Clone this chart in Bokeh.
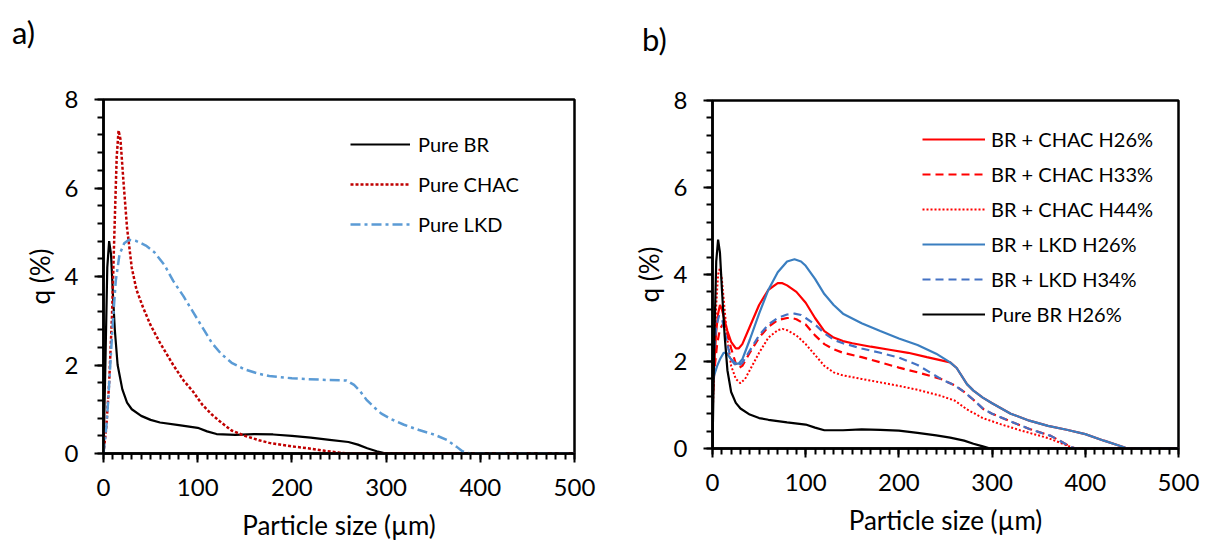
from bokeh.plotting import figure
from bokeh.layouts import row, column
from bokeh.models import FixedTicker, Legend, LegendItem, Range1d, Div
from bokeh.embed import file_html
from bokeh.resources import INLINE

FONT = "Lato"

# ---------------- Panel a) data ----------------
a_br_x = [0, 2, 4, 6, 8, 10, 12, 15, 20, 25, 30, 40, 50, 60, 80, 100, 110, 120, 140, 160, 180, 200, 220, 240, 260, 270, 280, 290, 300, 500]
a_br_y = [0, 2.0, 4.2, 4.8, 4.5, 3.6, 2.8, 2.0, 1.45, 1.15, 1.0, 0.85, 0.76, 0.7, 0.64, 0.58, 0.5, 0.44, 0.42, 0.44, 0.43, 0.4, 0.36, 0.31, 0.26, 0.2, 0.12, 0.05, 0.0, 0.0]

a_chac_x = [0, 3, 6, 9, 12, 14, 16, 18, 21, 25, 30, 35, 42, 50, 60, 74, 85, 95, 105, 115, 125, 136, 150, 165, 176, 200, 217, 235, 250, 260, 500]
a_chac_y = [0, 0.6, 1.6, 3.1, 5.3, 6.7, 7.3, 7.1, 6.2, 5.1, 4.2, 3.7, 3.3, 2.9, 2.5, 2.0, 1.65, 1.4, 1.1, 0.88, 0.7, 0.52, 0.4, 0.3, 0.24, 0.16, 0.12, 0.06, 0.02, 0.0, 0.0]

a_lkd_x = [0, 3, 5, 8, 10, 13, 17, 22, 27, 35, 45, 54, 65, 74, 85, 95, 105, 115, 125, 136, 150, 165, 176, 200, 217, 240, 258, 266, 272, 279, 287, 295, 305, 319, 335, 352, 365, 375, 381, 389, 500]
a_lkd_y = [0, 0.6, 1.2, 2.3, 3.0, 3.9, 4.5, 4.75, 4.83, 4.8, 4.7, 4.55, 4.25, 3.9, 3.55, 3.2, 2.85, 2.5, 2.25, 2.05, 1.9, 1.8, 1.75, 1.7, 1.68, 1.66, 1.65, 1.55, 1.42, 1.22, 1.05, 0.9, 0.78, 0.65, 0.53, 0.42, 0.3, 0.15, 0.05, 0.0, 0.0]

a_labels = ["Pure BR", "Pure CHAC", "Pure LKD"]

# ---------------- Panel b) data ----------------
b_chac26_x = [0, 2, 4, 6, 8, 10, 13, 16, 20, 25, 28, 32, 40, 50, 60, 70, 75, 80, 90, 100, 110, 120, 130, 140, 150, 170, 190, 210, 230, 255, 262, 273, 280, 290, 300, 320, 340, 360, 380, 400, 420, 440, 445, 500]
b_chac26_y = [1.2, 2.0, 2.7, 3.1, 3.3, 3.2, 2.95, 2.7, 2.45, 2.3, 2.3, 2.4, 2.8, 3.3, 3.65, 3.8, 3.8, 3.75, 3.6, 3.35, 3.0, 2.7, 2.55, 2.47, 2.42, 2.34, 2.27, 2.2, 2.1, 1.98, 1.85, 1.48, 1.33, 1.17, 1.04, 0.8, 0.64, 0.52, 0.43, 0.33, 0.18, 0.04, 0.0, 0.0]

b_chac33_x = [0, 2, 5, 8, 11, 14, 17, 20, 25, 28, 32, 40, 50, 60, 70, 80, 85, 90, 100, 110, 120, 130, 140, 160, 180, 200, 220, 245, 260, 270, 280, 291, 300, 320, 340, 363, 375, 384, 390, 500]
b_chac33_y = [1.0, 1.8, 2.4, 2.75, 2.85, 2.8, 2.55, 2.3, 1.95, 1.85, 1.9, 2.2, 2.55, 2.8, 2.95, 3.0, 3.0, 2.97, 2.85, 2.6, 2.4, 2.28, 2.2, 2.1, 1.98, 1.86, 1.75, 1.6, 1.45, 1.3, 1.12, 0.9, 0.8, 0.62, 0.45, 0.29, 0.15, 0.04, 0.0, 0.0]

b_chac44_x = [0, 2, 4, 6, 8, 10, 13, 16, 20, 25, 30, 35, 40, 50, 60, 70, 75, 80, 90, 100, 110, 120, 130, 140, 160, 180, 200, 220, 245, 260, 273, 290, 309, 330, 345, 360, 377, 388, 500]
b_chac44_y = [0.6, 2.0, 3.3, 4.0, 4.15, 3.9, 3.2, 2.5, 1.9, 1.6, 1.5, 1.6, 1.8, 2.2, 2.55, 2.72, 2.75, 2.72, 2.6, 2.4, 2.15, 1.9, 1.75, 1.68, 1.6, 1.52, 1.44, 1.35, 1.21, 1.1, 0.9, 0.7, 0.56, 0.42, 0.33, 0.24, 0.1, 0.0, 0.0]

b_lkd26_x = [0, 2, 5, 8, 12, 15, 20, 25, 28, 32, 40, 50, 60, 70, 80, 88, 95, 100, 110, 120, 130, 140, 160, 180, 200, 220, 240, 255, 262, 273, 280, 290, 300, 320, 340, 360, 380, 400, 420, 440, 445, 500]
b_lkd26_y = [1.5, 1.7, 1.9, 2.05, 2.2, 2.2, 2.05, 1.95, 1.95, 2.05, 2.5, 3.1, 3.65, 4.05, 4.3, 4.35, 4.3, 4.2, 3.9, 3.55, 3.3, 3.1, 2.88, 2.7, 2.53, 2.38, 2.18, 1.98, 1.85, 1.48, 1.33, 1.17, 1.04, 0.8, 0.64, 0.52, 0.43, 0.33, 0.18, 0.04, 0.0, 0.0]

b_lkd34_x = [0, 2, 4, 7, 10, 13, 17, 20, 25, 28, 32, 40, 50, 60, 70, 80, 88, 95, 100, 110, 120, 130, 140, 160, 180, 200, 220, 245, 260, 270, 280, 291, 300, 320, 340, 363, 375, 384, 390, 500]
b_lkd34_y = [1.4, 2.3, 2.8, 3.05, 3.0, 2.7, 2.3, 2.05, 1.9, 1.9, 1.97, 2.25, 2.6, 2.85, 3.0, 3.08, 3.1, 3.07, 3.0, 2.85, 2.65, 2.5, 2.42, 2.3, 2.2, 2.09, 1.92, 1.6, 1.45, 1.3, 1.12, 0.9, 0.8, 0.62, 0.45, 0.29, 0.15, 0.04, 0.0, 0.0]

b_br_x = [0, 2, 4, 6, 8, 10, 13, 16, 20, 25, 30, 40, 50, 60, 80, 100, 110, 120, 140, 160, 180, 200, 220, 240, 255, 270, 280, 290, 298, 500]
b_br_y = [0, 2.5, 4.3, 4.8, 4.5, 3.7, 2.6, 1.8, 1.3, 1.05, 0.92, 0.78, 0.7, 0.66, 0.6, 0.55, 0.48, 0.42, 0.42, 0.44, 0.43, 0.41, 0.36, 0.3, 0.25, 0.18, 0.11, 0.05, 0.0, 0.0]

b_labels = ["BR + CHAC H26%", "BR + CHAC H33%", "BR + CHAC H44%", "BR + LKD H26%", "BR + LKD H34%", "Pure BR H26%"]

panel_tags = ["a)", "b)"]

x_major = [0, 100, 200, 300, 400, 500]
x_minor = list(range(0, 501, 10))
y_major = [0, 2, 4, 6, 8]
y_minor = [i * 0.4 for i in range(21)]
x_title = "Particle size (µm)"
y_title = "q (%)"

HEAD_H = 60


def make_header(width, tag, left, top):
    html = ('<div style="position:absolute; left:%dpx; top:%dpx; font-family:Lato; '
            'font-size:31px; line-height:31px; color:black; white-space:nowrap;">%s</div>'
            % (left, top, tag))
    return Div(text=html, width=width, height=HEAD_H, margin=(0, 0, 0, 0),
               styles={"position": "relative", "overflow": "visible"})


def make_fig(frame_w, frame_h, left, right, top, bottom):
    p = figure(frame_width=frame_w, frame_height=frame_h,
               min_border_left=left, min_border_right=right,
               min_border_top=top, min_border_bottom=bottom,
               x_range=Range1d(0, 500), y_range=Range1d(0, 8),
               output_backend="svg", toolbar_location=None,
               background_fill_color="white", border_fill_color="white")
    p.xgrid.visible = False
    p.ygrid.visible = False
    p.outline_line_color = "black"
    p.outline_line_width = 2.5
    p.outline_line_alpha = 1
    p.xaxis.ticker = FixedTicker(ticks=x_major, minor_ticks=x_minor)
    p.yaxis.ticker = FixedTicker(ticks=y_major, minor_ticks=y_minor)
    for ax in (p.xaxis[0], p.yaxis[0]):
        ax.axis_line_color = "black"
        ax.axis_line_width = 2.5
        ax.major_tick_line_color = "black"
        ax.major_tick_line_width = 2
        ax.minor_tick_line_color = "black"
        ax.minor_tick_line_width = 2
        ax.major_tick_in = 0
        ax.major_tick_out = 9
        ax.minor_tick_in = 0
        ax.minor_tick_out = 6
        ax.major_label_text_font = FONT
        ax.major_label_text_font_size = "24px"
        ax.major_label_text_color = "black"
        ax.axis_label_text_font = FONT
        ax.axis_label_text_font_size = "26px"
        ax.axis_label_text_font_style = "normal"
        ax.axis_label_text_color = "black"
    p.xaxis.axis_label = x_title
    p.yaxis.axis_label = y_title
    p.xaxis.major_label_standoff = 16
    p.yaxis.major_label_standoff = 16
    p.xaxis.axis_label_standoff = 10
    p.yaxis.axis_label_standoff = 6
    return p


def make_legend(items, loc, gw, gh, sp, standoff):
    lg = Legend(items=items, location=loc, glyph_width=gw, glyph_height=gh,
                label_height=gh, spacing=sp, padding=0, margin=0,
                label_standoff=standoff, border_line_alpha=0,
                background_fill_alpha=0, label_text_font=FONT,
                label_text_font_size="20px", label_text_color="black",
                label_text_baseline="middle")
    return lg


# ---------------- Panel a) ----------------
ha = make_header(605, panel_tags[0], 12, 17)
pa = make_fig(471, 354, 103, 31, 99 - HEAD_H, 107)
ra1 = pa.line(a_br_x, a_br_y, line_color="black", line_width=2.2)
ra2 = pa.line(a_chac_x, a_chac_y, line_color="#C00000", line_width=2.5, line_dash="3 2")
ra3 = pa.line(a_lkd_x, a_lkd_y, line_color="#5B9BD5", line_width=2.5, line_dash="10 4 3 4")
leg_a = make_legend([LegendItem(label=a_labels[0], renderers=[ra1]),
                     LegendItem(label=a_labels[1], renderers=[ra2]),
                     LegendItem(label=a_labels[2], renderers=[ra3])],
                    (247, 217), 60, 24, 16, 8)
pa.add_layout(leg_a)

# ---------------- Panel b) ----------------
hb = make_header(602, panel_tags[1], 37, 24)
pb = make_fig(466, 348, 107, 29, 100 - HEAD_H, 112)
rb1 = pb.line(b_chac26_x, b_chac26_y, line_color="#FF0000", line_width=2.2)
rb2 = pb.line(b_chac33_x, b_chac33_y, line_color="#FF0000", line_width=2.2, line_dash="8 5")
rb3 = pb.line(b_chac44_x, b_chac44_y, line_color="#FF0000", line_width=2.0, line_dash="2 2")
rb4 = pb.line(b_lkd26_x, b_lkd26_y, line_color="#3A7EC0", line_width=2.2)
rb5 = pb.line(b_lkd34_x, b_lkd34_y, line_color="#4472C4", line_width=2.2, line_dash="8 5")
rb6 = pb.line(b_br_x, b_br_y, line_color="black", line_width=2.2)
leg_b = make_legend([LegendItem(label=b_labels[i], renderers=[r])
                     for i, r in enumerate([rb1, rb2, rb3, rb4, rb5, rb6])],
                    (210, 122), 63, 24, 11, 6)
pb.add_layout(leg_b)

layout = row(column(ha, pa), column(hb, pb))
open("out.html", "w").write(file_html(layout, INLINE))
